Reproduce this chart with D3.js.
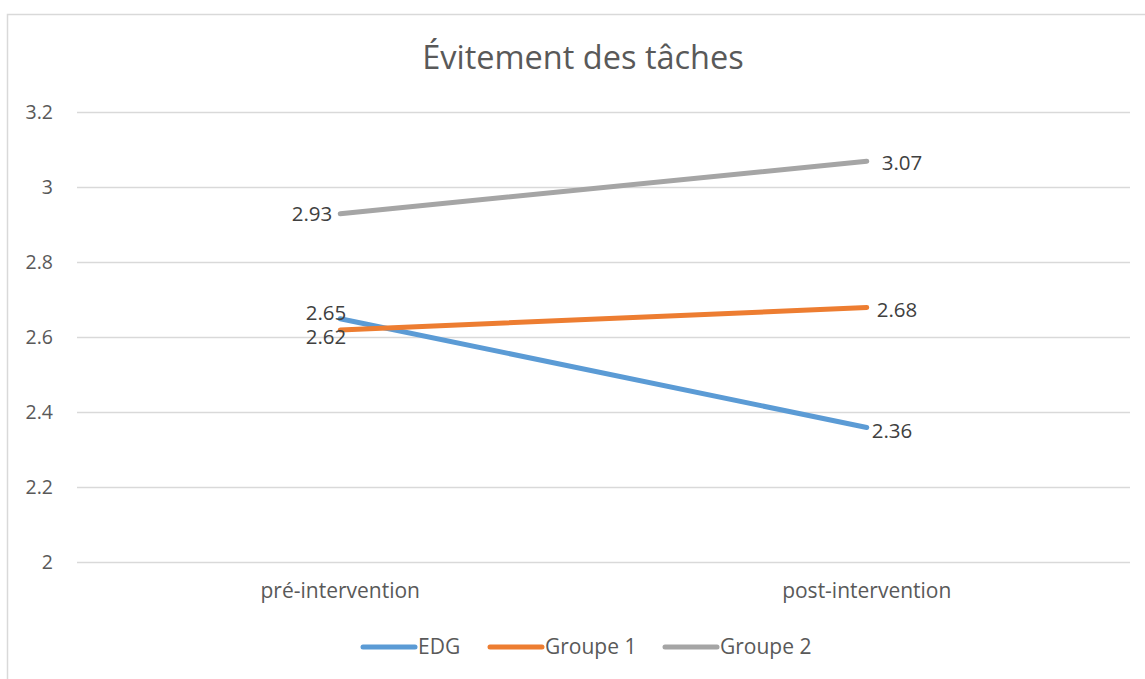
<!DOCTYPE html>
<html>
<head>
<meta charset="utf-8">
<script src="https://cdn.jsdelivr.net/npm/d3@7"></script>
<style>
  body { margin: 0; background: #fff; }
  svg { display: block; font-family: "Open Sans", sans-serif; }
</style>
</head>
<body>
<div id="chart"></div>
<script>
const title = "Évitement des tâches";
const phases = ["pré-intervention", "post-intervention"];
const seriesNames = ["EDG", "Groupe 1", "Groupe 2"];
const edgValues = [2.65, 2.36];
const groupe1Values = [2.62, 2.68];
const groupe2Values = [2.93, 3.07];
const yTicks = [2, 2.2, 2.4, 2.6, 2.8, 3, 3.2];

const colors = ["#5B9BD5", "#ED7D31", "#A5A5A5"];
// label nudges (dx, dy, anchor) per series and point, to mimic Excel placement
const labelNudge = [
  [[6, -6, "end"], [5, 3, "start"]],
  [[6, 7, "end"], [10, 2, "start"]],
  [[-8, 0, "end"], [15, 2, "start"]]
];

const W = 1145, H = 679;
const margin = { top: 112.5, right: 15, bottom: 116.5, left: 77 };
const width = W - margin.left - margin.right;
const height = H - margin.top - margin.bottom;

const svg = d3.select("#chart").append("svg")
  .attr("width", W)
  .attr("height", H);

// outer chart border
svg.append("rect")
  .attr("x", 7.5).attr("y", 14.5)
  .attr("width", 1145).attr("height", 700)
  .attr("fill", "none")
  .attr("stroke", "#d9d9d9")
  .attr("stroke-width", 1.5);

svg.append("text")
  .attr("x", 583)
  .attr("y", 69)
  .attr("text-anchor", "middle")
  .attr("fill", "#595959")
  .style("font-size", "32.5px")
  .text(title);

const g = svg.append("g").attr("transform", `translate(${margin.left},${margin.top})`);

const x = d3.scaleBand().domain(phases).range([0, width]);
const y = d3.scaleLinear().domain([2, 3.2]).range([height, 0]);

// gridlines
g.selectAll(".grid")
  .data(yTicks)
  .join("line")
  .attr("x1", 0).attr("x2", width)
  .attr("y1", d => y(d)).attr("y2", d => y(d))
  .attr("stroke", "#d9d9d9")
  .attr("stroke-width", 1.5);

const yAxis = g.append("g")
  .call(d3.axisLeft(y).tickValues(yTicks).tickSize(0).tickPadding(24).tickFormat(d3.format("~g")));
yAxis.select(".domain").remove();
yAxis.selectAll("text").attr("fill", "#595959").style("font-size", "19.5px").style("font-family", "'Open Sans', sans-serif");

const xAxis = g.append("g")
  .attr("transform", `translate(0,${height})`)
  .call(d3.axisBottom(x).tickSize(0).tickPadding(21));
xAxis.select(".domain").remove();
xAxis.selectAll("text").attr("fill", "#595959").style("font-size", "21px").style("font-family", "'Open Sans', sans-serif");

const series = [edgValues, groupe1Values, groupe2Values].map((vals, i) => ({
  name: seriesNames[i],
  color: colors[i],
  values: vals.map((v, j) => ({ phase: phases[j], val: v }))
}));

const line = d3.line()
  .x(d => x(d.phase) + x.bandwidth() / 2)
  .y(d => y(d.val));

g.selectAll(".series")
  .data(series)
  .join("path")
  .attr("fill", "none")
  .attr("stroke", d => d.color)
  .attr("stroke-width", 5)
  .attr("stroke-linecap", "round")
  .attr("d", d => line(d.values));

series.forEach((s, i) => {
  s.values.forEach((p, j) => {
    const [dx, dy, anchor] = labelNudge[i][j];
    g.append("text")
      .attr("x", x(p.phase) + x.bandwidth() / 2 + dx)
      .attr("y", y(p.val) + dy)
      .attr("dy", "0.35em")
      .attr("text-anchor", anchor)
      .attr("fill", "#404040")
      .style("font-size", "20.5px")
      .text(d3.format(".2f")(p.val));
  });
});

// legend
const legendX = [361, 488, 663];
const legend = svg.append("g").attr("transform", "translate(0,647)");
series.forEach((s, i) => {
  const lg = legend.append("g").attr("transform", `translate(${legendX[i]},0)`);
  lg.append("line")
    .attr("x1", 2).attr("x2", 54)
    .attr("stroke", s.color)
    .attr("stroke-width", 5)
    .attr("stroke-linecap", "round");
  lg.append("text")
    .attr("x", 57)
    .attr("dy", "0.35em")
    .attr("fill", "#595959")
    .style("font-size", "21px")
    .text(s.name);
});
</script>
</body>
</html>
